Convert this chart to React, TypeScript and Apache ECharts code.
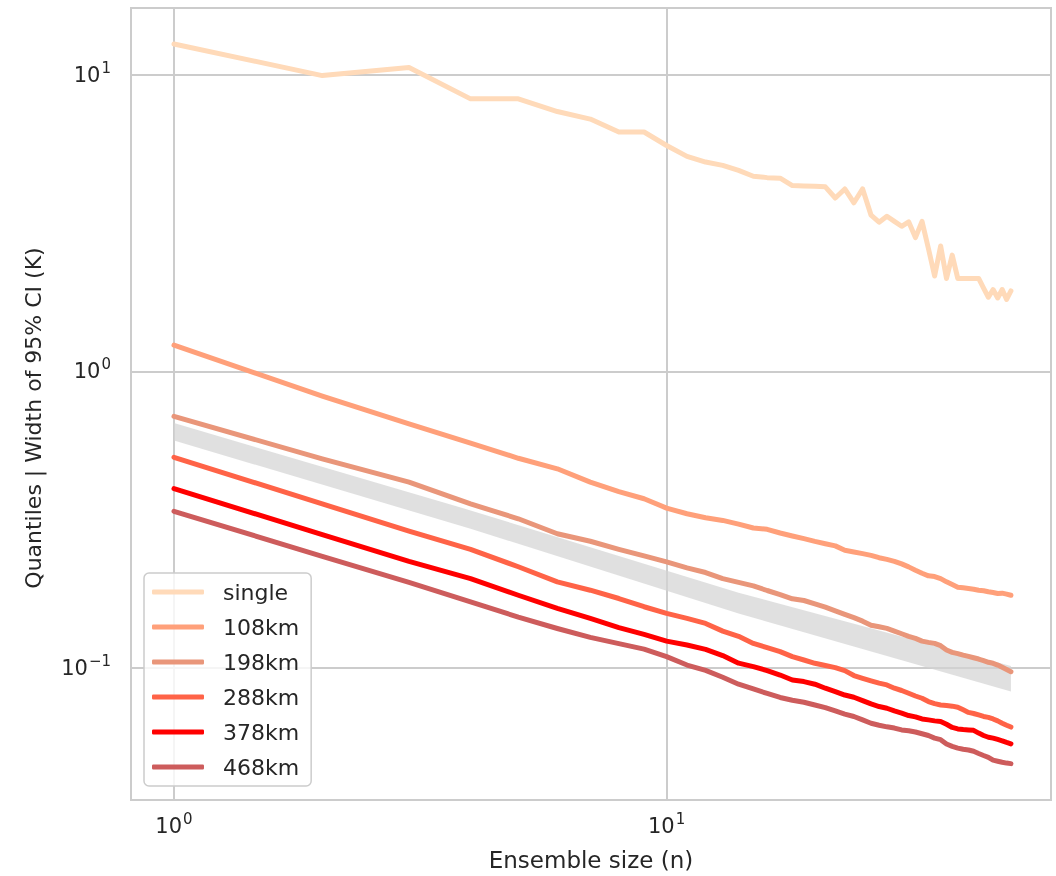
import React, { useEffect, useRef } from "react";
import * as echarts from "echarts";

const ensembleSize = [1,2,3,4,5,6,7,8,9,10,11,12,13,14,15,16,17,18,19,20,21,22,23,24,25,26,27,28,29,30,31,32,33,34,35,36,37,38,39,40,41,42,43,44,45,46,47,48,49,50];

const single = [12.75,9.97,10.61,8.32,8.32,7.54,7.11,6.43,6.43,5.79,5.32,5.09,4.96,4.77,4.56,4.51,4.49,4.24,4.23,4.22,4.20,3.85,4.13,3.71,4.13,3.37,3.19,3.34,3.21,3.09,3.20,2.83,3.21,2.60,2.10,2.65,2.06,2.47,2.06,2.06,2.06,2.06,2.06,1.91,1.78,1.89,1.77,1.89,1.75,1.87];
const km108 = [1.226,0.825,0.665,0.573,0.509,0.469,0.423,0.393,0.3716,0.3456,0.3307,0.3206,0.314,0.305,0.296,0.2929,0.2848,0.2782,0.2725,0.2668,0.262,0.2576,0.2489,0.2458,0.2426,0.2393,0.235,0.232,0.2285,0.2239,0.2188,0.2131,0.2082,0.2041,0.203,0.1998,0.1948,0.1908,0.1868,0.1859,0.1849,0.1839,0.1825,0.1817,0.1803,0.1793,0.178,0.1784,0.1771,0.1755];
const km198 = [0.705,0.507,0.423,0.357,0.318,0.283,0.267,0.2508,0.2383,0.2275,0.2172,0.2094,0.1998,0.194,0.1888,0.1821,0.1765,0.1707,0.1685,0.1642,0.16,0.1555,0.1512,0.1474,0.1435,0.139,0.1374,0.1356,0.1328,0.1301,0.1274,0.1255,0.1229,0.1217,0.1207,0.1186,0.1147,0.1126,0.1115,0.1102,0.1091,0.108,0.1069,0.1056,0.1042,0.1034,0.102,0.1002,0.0985,0.0969];
const km288 = [0.513,0.357,0.289,0.2508,0.219,0.1948,0.1825,0.1711,0.1605,0.1524,0.1466,0.141,0.1328,0.1275,0.1207,0.1168,0.1132,0.1089,0.1061,0.1034,0.1016,0.1,0.0977,0.094,0.092,0.0902,0.0886,0.0874,0.0852,0.0837,0.0819,0.0802,0.0788,0.0768,0.0756,0.0748,0.0745,0.0741,0.0735,0.072,0.0706,0.07,0.0692,0.0684,0.0679,0.0671,0.0661,0.0649,0.0639,0.063];
const km378 = [0.402,0.281,0.2285,0.1998,0.1755,0.1584,0.1466,0.1364,0.1295,0.1229,0.1192,0.1152,0.1098,0.1035,0.1008,0.0977,0.0944,0.0908,0.0897,0.0879,0.0852,0.083,0.0808,0.0794,0.0774,0.0754,0.0739,0.0729,0.0714,0.0702,0.0689,0.0682,0.0671,0.0666,0.0661,0.0658,0.0644,0.0628,0.0621,0.0618,0.0616,0.0614,0.0601,0.059,0.0582,0.0578,0.0572,0.0566,0.0559,0.0553];
const km468 = [0.337,0.2375,0.194,0.1668,0.148,0.1355,0.1265,0.1205,0.1155,0.1089,0.102,0.0979,0.0928,0.0879,0.0847,0.0818,0.0793,0.0776,0.0764,0.0748,0.0733,0.0714,0.0697,0.0684,0.0666,0.0649,0.0639,0.0631,0.0625,0.0616,0.0612,0.0606,0.0598,0.059,0.0578,0.0571,0.0552,0.0542,0.0535,0.053,0.0527,0.0522,0.0513,0.0505,0.0498,0.0487,0.0483,0.0479,0.0476,0.0474];

const bandN = [1, 4, 14, 50];
const bandLow = [0.584, 0.2944, 0.1524, 0.083];
const bandHigh = [0.669, 0.3394, 0.1789, 0.1012];

const seriesNames = ["single", "108km", "198km", "288km", "378km", "468km"];
const seriesColors = ["#FFDAB9", "#FFA07A", "#E9967A", "#FF6347", "#FF0000", "#CD5C5C"];
const seriesValues = [single, km108, km198, km288, km378, km468];

const TEXT = "#262626";
const FONT = "DejaVu Sans";

function powLabel(v: number) {
  const e = Math.round(Math.log10(v));
  const es = e < 0 ? "\u2212" + String(-e) : String(e);
  return "{b|10}{s|" + es + "}";
}

const rich = {
  b: { fontSize: 21, fontFamily: FONT, color: TEXT, verticalAlign: "middle", lineHeight: 24 },
  s: { fontSize: 15, fontFamily: FONT, color: TEXT, verticalAlign: "middle", lineHeight: 15, padding: [0, 0, 14, 1] },
};

export default function App() {
  const ref = useRef<HTMLDivElement>(null);
  useEffect(() => {
    if (!ref.current) return;
    const chart = echarts.init(ref.current, undefined, { renderer: "svg" });
    const lineSeries = seriesNames.map((name, i) => ({
      name,
      type: "line",
      data: ensembleSize.map((n, j) => [n, seriesValues[i][j]]),
      symbol: "none",
      z: 3,
      lineStyle: { color: seriesColors[i], width: 5, cap: "round", join: "round" },
      itemStyle: { color: seriesColors[i] },
    }));
    const bandData = bandN.map((n, j) => [n, bandLow[j], bandHigh[j]]);
    const option = {
      animation: false,
      textStyle: { fontFamily: FONT, color: TEXT },
      grid: {
        left: 131, right: 5, top: 8, bottom: 74,
        show: true, borderColor: "#cccccc", borderWidth: 2, backgroundColor: "transparent",
      },
      xAxis: {
        type: "log", logBase: 10, min: 0.818, max: 60.3,
        name: "Ensemble size (n)", nameLocation: "middle", nameGap: 48,
        nameTextStyle: { fontSize: 23, fontFamily: FONT, color: TEXT },
        axisLine: { show: false }, axisTick: { show: false },
        splitLine: { show: true, lineStyle: { color: "#cccccc", width: 2 } },
        axisLabel: { formatter: powLabel, rich, margin: 14, showMinLabel: false, showMaxLabel: false },
      },
      yAxis: {
        type: "log", logBase: 10, min: 0.03573, max: 16.86,
        axisLine: { show: false }, axisTick: { show: false },
        splitLine: { show: true, lineStyle: { color: "#cccccc", width: 2 } },
        axisLabel: { formatter: powLabel, rich, margin: 20, showMinLabel: false, showMaxLabel: false },
      },
      graphic: [
        {
          type: "text", x: 33, y: 418, rotation: Math.PI / 2,
          style: { text: "Quantiles | Width of 95% CI (K)", fontSize: 22, fontFamily: FONT, fill: TEXT, align: "center", verticalAlign: "middle" },
        },
      ],
      legend: {
        data: seriesNames,
        orient: "vertical", left: 144, top: 573,
        icon: "roundRect", itemWidth: 52, itemHeight: 5, itemGap: 9,
        padding: [6, 12, 6, 8],
        backgroundColor: "rgba(255,255,255,0.8)", borderColor: "#cccccc", borderWidth: 1.5, borderRadius: 5,
        textStyle: { fontSize: 22, fontFamily: FONT, color: TEXT, lineHeight: 26, padding: [0, 0, 0, 14] },
      },
      series: [
        {
          name: "band", type: "custom", silent: true, z: 1,
          data: bandData,
          encode: { x: 0, y: [1, 2] },
          renderItem: (params: any, api: any) => {
            if (params.dataIndex !== 0) return null;
            const top = bandData.map((d) => api.coord([d[0], d[2]]));
            const bottom = bandData.map((d) => api.coord([d[0], d[1]])).reverse();
            return {
              type: "polygon",
              shape: { points: top.concat(bottom) },
              style: { fill: "rgba(211,211,211,0.7)" },
            };
          },
        },
        ...lineSeries,
      ],
    };
    chart.setOption(option as any);
    return () => chart.dispose();
  }, []);
  return <div ref={ref} style={{ position: "fixed", left: 0, top: 0, width: 1056, height: 876 }} />;
}
